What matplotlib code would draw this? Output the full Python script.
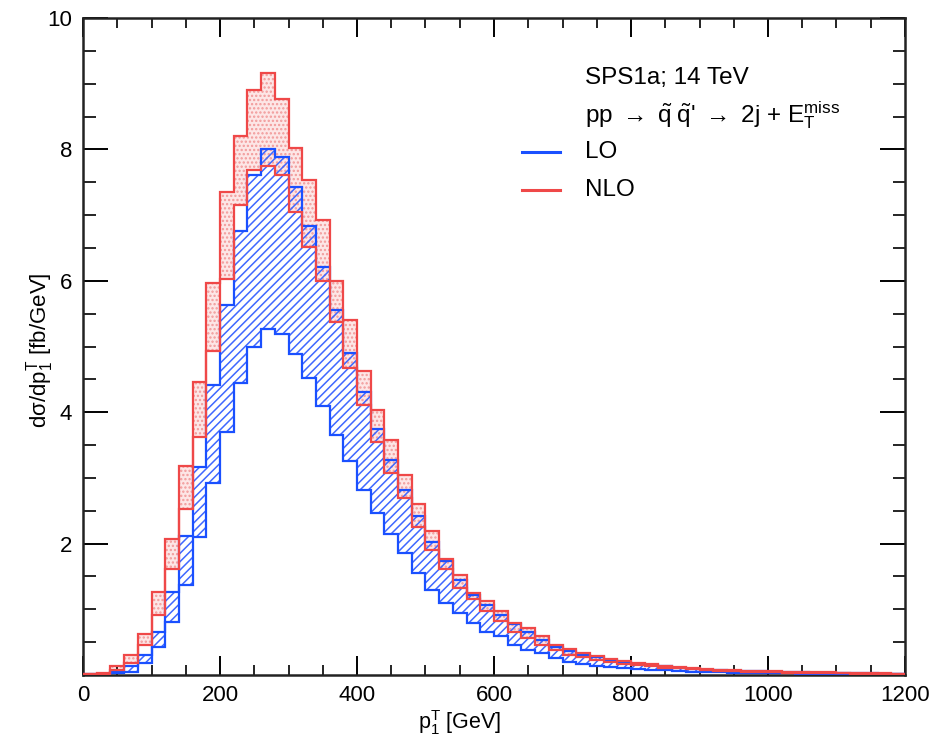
import numpy as np
import matplotlib
matplotlib.use("Agg")
import matplotlib.pyplot as plt

plt.rcParams['font.family'] = ['Liberation Sans', 'DejaVu Sans']
plt.rcParams['mathtext.fontset'] = 'custom'
plt.rcParams['mathtext.rm'] = 'Liberation Sans'
plt.rcParams['mathtext.it'] = 'Liberation Sans:italic'
plt.rcParams['mathtext.fallback'] = 'cm'
plt.rcParams['hatch.linewidth'] = 1.1

# bin edges (GeV)
bin_edges = np.arange(0, 1201, 20)

nlo_hi = [0.02, 0.03, 0.13, 0.30, 0.63, 1.26, 2.07, 3.18, 4.46, 5.96,
          7.35, 8.20, 8.90, 9.17, 8.76, 8.02, 7.54, 6.92, 5.99, 5.40,
          4.62, 4.03, 3.58, 3.04, 2.60, 2.19, 1.77, 1.52, 1.25, 1.12,
          0.97, 0.79, 0.71, 0.59, 0.46, 0.39, 0.33, 0.29, 0.25, 0.21,
          0.18, 0.16, 0.14, 0.12, 0.10, 0.09, 0.08, 0.07, 0.065, 0.06,
          0.055, 0.05, 0.045, 0.04, 0.04, 0.035, 0.03, 0.03, 0.025, 0.02]
nlo_lo = [0.01, 0.02, 0.08, 0.19, 0.46, 0.91, 1.61, 2.53, 3.63, 4.93,
          6.02, 7.15, 7.69, 7.74, 7.61, 7.05, 6.52, 5.99, 5.37, 4.68,
          4.11, 3.55, 3.08, 2.69, 2.25, 1.91, 1.61, 1.33, 1.15, 0.97,
          0.82, 0.66, 0.56, 0.46, 0.38, 0.31, 0.27, 0.23, 0.20, 0.17,
          0.15, 0.13, 0.11, 0.10, 0.085, 0.07, 0.06, 0.055, 0.05, 0.045,
          0.04, 0.035, 0.03, 0.03, 0.025, 0.025, 0.02, 0.02, 0.015, 0.015]
lo_hi = [0.01, 0.02, 0.05, 0.13, 0.30, 0.66, 1.27, 2.12, 3.17, 4.41,
         5.63, 6.76, 7.61, 8.00, 7.88, 7.43, 6.84, 6.21, 5.55, 4.90,
         4.30, 3.75, 3.28, 2.82, 2.42, 2.03, 1.73, 1.45, 1.22, 1.07,
         0.92, 0.77, 0.66, 0.54, 0.43, 0.36, 0.31, 0.27, 0.23, 0.20,
         0.17, 0.15, 0.13, 0.11, 0.095, 0.08, 0.07, 0.065, 0.06, 0.055,
         0.05, 0.045, 0.04, 0.035, 0.035, 0.03, 0.025, 0.025, 0.02, 0.02]
lo_lo = [0.005, 0.01, 0.03, 0.05, 0.19, 0.43, 0.81, 1.37, 2.10, 2.92,
         3.70, 4.45, 5.00, 5.27, 5.19, 4.89, 4.52, 4.09, 3.66, 3.25,
         2.82, 2.47, 2.14, 1.85, 1.55, 1.30, 1.10, 0.94, 0.79, 0.66,
         0.59, 0.46, 0.38, 0.33, 0.26, 0.20, 0.17, 0.14, 0.12, 0.10,
         0.09, 0.08, 0.07, 0.06, 0.05, 0.045, 0.04, 0.035, 0.03, 0.03,
         0.025, 0.025, 0.02, 0.02, 0.015, 0.015, 0.012, 0.012, 0.01, 0.01]

x_ticks = [0, 200, 400, 600, 800, 1000, 1200]
y_ticks = [2, 4, 6, 8, 10]

RED = '#ef4848'
BLUE = '#1a50ff'

fig = plt.figure(figsize=(9.32, 7.41), dpi=100)
ax = fig.add_axes([83/932, 1-675/741, (905-83)/932, (675-18)/741])

# NLO band (dotted)
ax.stairs(nlo_hi, bin_edges, baseline=nlo_lo, fill=True,
          facecolor='#fde6e6', edgecolor='#f29a9a', hatch='....', linewidth=0, zorder=1)
# LO band (hatched)
ax.stairs(lo_hi, bin_edges, baseline=lo_lo, fill=True,
          facecolor='none', edgecolor='#3f68ff', hatch='////', linewidth=0, zorder=2)
# outlines
for arr in (lo_hi, lo_lo):
    ax.stairs(arr, bin_edges, baseline=None, color=BLUE, linewidth=1.6, zorder=3)
for arr in (nlo_hi, nlo_lo):
    ax.stairs(arr, bin_edges, baseline=None, color=RED, linewidth=1.6, zorder=4)

ax.set_xlim(0, 1200)
ax.set_ylim(0, 10)
ax.set_xticks(x_ticks)
ax.set_xticklabels([str(v) for v in x_ticks])
ax.set_yticks(y_ticks)
ax.set_yticklabels([str(v) for v in y_ticks])
ax.set_xticks(np.arange(0, 1201, 50), minor=True)
ax.set_yticks(np.arange(0, 10.01, 0.5), minor=True)

ax.tick_params(axis='both', which='both', direction='in', top=True, right=True,
               labelsize=16, colors='black')
ax.tick_params(axis='x', which='major', length=14, width=1.4, pad=7)
ax.tick_params(axis='x', which='minor', length=7, width=1.2)
ax.tick_params(axis='y', which='major', length=18, width=1.4, pad=8)
ax.tick_params(axis='y', which='minor', length=9, width=1.2)
for s in ax.spines.values():
    s.set_linewidth(1.8)
    s.set_color('#222222')

# axis labels
fig.text(460/932, 1-723/741, r'p$_{\mathrm{1}}^{\mathrm{T}}$ [GeV]', ha='center', va='center', fontsize=15.5)
fig.text(40/932, 1-350/741, r'd$\mathrm{\sigma}$/dp$_{\mathrm{1}}^{\mathrm{T}}$ [fb/GeV]',
         ha='center', va='center', rotation=90, fontsize=16)

# annotations / legend
tx = 0.611
ax.text(tx, 0.908, 'SPS1a; 14 TeV', transform=ax.transAxes, fontsize=17.5, va='center', ha='left')
ax.text(tx, 0.852,
        r"pp $\rightarrow$ $\tilde{\mathrm{q}}\;\tilde{\mathrm{q}}$' $\rightarrow$ 2j + E$_{\mathrm{T}}^{\mathrm{miss}}$",
        transform=ax.transAxes, fontsize=17.5, va='center', ha='left')
ax.plot([0.534, 0.580], [0.796, 0.796], transform=ax.transAxes, color=BLUE, lw=2.2)
ax.plot([0.534, 0.580], [0.738, 0.738], transform=ax.transAxes, color=RED, lw=2.2)
ax.text(tx, 0.796, 'LO', transform=ax.transAxes, fontsize=17.5, va='center', ha='left')
ax.text(tx, 0.738, 'NLO', transform=ax.transAxes, fontsize=17.5, va='center', ha='left')

fig.savefig('out.png', dpi=100)
